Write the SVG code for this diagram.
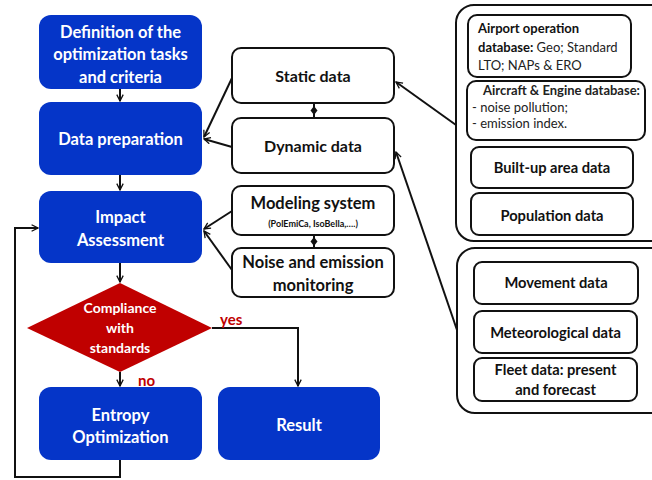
<svg xmlns="http://www.w3.org/2000/svg" width="652" height="480" viewBox="0 0 652 480">
<defs>
<style>
.blue{fill:#0535C8;stroke:none}
.wbox{fill:#fff;stroke:#111;stroke-width:2}
.grp{fill:#fff;stroke:#111;stroke-width:2}
.wt{font-family:Lato,"Liberation Sans",sans-serif;font-weight:bold;fill:#fff;text-anchor:middle}
.bt{font-family:Lato,"Liberation Sans",sans-serif;font-weight:bold;fill:#111;text-anchor:middle}
.st{font-family:Lato,"Liberation Sans",sans-serif;fill:#222;font-size:13px}
.conn{fill:none;stroke:#111;stroke-width:2}
.dm{fill:#111}
.red{font-family:Lato,"Liberation Sans",sans-serif;font-weight:bold;fill:#C00000;font-size:15px}
</style>
<marker id="arr" viewBox="0 0 10 10" refX="9" refY="5" markerWidth="8" markerHeight="8" markerUnits="userSpaceOnUse" orient="auto">
<path d="M1,1 L9,5 L1,9" fill="none" stroke="#111" stroke-width="1.6"/>
</marker>
</defs>

<g id="right-group-1">
<rect class="grp" x="456" y="5" width="220" height="236" rx="18"/>
</g>
<g id="right-group-2">
<rect class="grp" x="457" y="248" width="220" height="165" rx="18"/>
</g>

<g id="connectors">
<path class="conn" d="M120,89 V101" marker-end="url(#arr)"/>
<path class="conn" d="M120,175 V190" marker-end="url(#arr)"/>
<path class="conn" d="M120,263 V282" marker-end="url(#arr)"/>
<path class="conn" d="M120,372 V386" marker-end="url(#arr)"/>
<path class="conn" d="M212,328 H298 V386" marker-end="url(#arr)"/>
<path class="conn" d="M120,460 V477 H15 V228 H38" marker-end="url(#arr)"/>
<path class="conn" d="M232,78 L204,137" marker-end="url(#arr)"/>
<path class="conn" d="M232,147 L204,139" marker-end="url(#arr)"/>
<path class="conn" d="M232,211 L204,229" marker-end="url(#arr)"/>
<path class="conn" d="M232,270 L204,231" marker-end="url(#arr)"/>
<path class="conn" d="M456,125 L396,82" marker-end="url(#arr)"/>
<path class="conn" d="M457,330 L396,152" marker-end="url(#arr)"/>
<path class="conn" d="M314,103 V118"/>
<polygon class="dm" points="314,106 317.5,110.5 314,115 310.5,110.5"/>
<path class="conn" d="M314,235 V248"/>
<polygon class="dm" points="314,237 317.5,241.5 314,246 310.5,241.5"/>
</g>

<g id="definition">
<rect class="blue" x="39" y="15" width="163" height="74" rx="12"/>
<text class="wt" font-size="16.5" x="120.5" y="38">Definition of the</text>
<text class="wt" font-size="16.5" x="120.5" y="60">optimization tasks</text>
<text class="wt" font-size="16.5" x="120.5" y="83">and criteria</text>
</g>
<g id="data-preparation">
<rect class="blue" x="39" y="102" width="163" height="73" rx="12"/>
<text class="wt" font-size="16.5" x="120.5" y="145">Data preparation</text>
</g>
<g id="impact">
<rect class="blue" x="39" y="191" width="163" height="72" rx="12"/>
<text class="wt" font-size="16.5" x="120.5" y="223">Impact</text>
<text class="wt" font-size="16.5" x="120.5" y="246">Assessment</text>
</g>
<g id="compliance">
<polygon points="120,283 212,328 120,372 27,328" fill="#C00000"/>
<text class="wt" font-size="14" x="120" y="313">Compliance</text>
<text class="wt" font-size="14" x="120" y="333">with</text>
<text class="wt" font-size="14" x="120" y="353">standards</text>
<text class="red" x="220" y="325">yes</text>
<text class="red" x="138" y="386">no</text>
</g>
<g id="entropy">
<rect class="blue" x="39" y="387" width="163" height="73" rx="12"/>
<text class="wt" font-size="16.5" x="120.5" y="421">Entropy</text>
<text class="wt" font-size="16.5" x="120.5" y="443">Optimization</text>
</g>
<g id="result">
<rect class="blue" x="218" y="387" width="162" height="73" rx="12"/>
<text class="wt" font-size="16.5" x="299" y="431">Result</text>
</g>

<g id="static-data">
<rect class="wbox" x="232" y="48" width="162" height="55" rx="9"/>
<text class="bt" font-size="16" x="313" y="82">Static data</text>
</g>
<g id="dynamic-data">
<rect class="wbox" x="232" y="118" width="162" height="55" rx="9"/>
<text class="bt" font-size="16" x="313" y="152">Dynamic data</text>
</g>
<g id="modeling">
<rect class="wbox" x="232" y="186" width="162" height="49" rx="9"/>
<text class="bt" font-size="16.5" x="313" y="209">Modeling system</text>
<text class="bt" font-size="9" x="313" y="227">(PolEmiCa, IsoBella,….)</text>
</g>
<g id="monitoring">
<rect class="wbox" x="232" y="248" width="162" height="49" rx="9"/>
<text class="bt" font-size="16.5" x="313" y="268">Noise and emission</text>
<text class="bt" font-size="16.5" x="313" y="291">monitoring</text>
</g>

<g id="airport-db">
<rect class="wbox" x="468" y="15" width="163" height="62" rx="9"/>
<text class="st" x="478" y="33"><tspan font-weight="bold" fill="#111">Airport operation</tspan></text>
<text class="st" x="478" y="52"><tspan font-weight="bold" fill="#111">database:</tspan> Geo; Standard</text>
<text class="st" x="478" y="70">LTO; NAPs &amp; ERO</text>
</g>
<g id="aircraft-db">
<rect class="wbox" x="467" y="81" width="178" height="59" rx="9"/>
<text class="st" x="483" y="95" font-weight="bold" fill="#111">Aircraft &amp; Engine database:</text>
<text class="st" x="472" y="112">- noise pollution;</text>
<text class="st" x="472" y="128">- emission index.</text>
</g>
<g id="built-up">
<rect class="wbox" x="471" y="147" width="162" height="41" rx="8"/>
<text class="bt" font-size="14.7" x="552" y="173">Built-up area data</text>
</g>
<g id="population">
<rect class="wbox" x="471" y="193" width="162" height="42" rx="8"/>
<text class="bt" font-size="14.7" x="552" y="221">Population data</text>
</g>
<g id="movement">
<rect class="wbox" x="474" y="262" width="164" height="42" rx="8"/>
<text class="bt" font-size="14.7" x="556" y="288">Movement data</text>
</g>
<g id="meteorological">
<rect class="wbox" x="474" y="311" width="163" height="42" rx="8"/>
<text class="bt" font-size="14.7" x="555.5" y="338">Meteorological data</text>
</g>
<g id="fleet">
<rect class="wbox" x="474" y="358" width="163" height="43" rx="8"/>
<text class="bt" font-size="14.7" x="555.5" y="375">Fleet data: present</text>
<text class="bt" font-size="14.7" x="555.5" y="395">and forecast</text>
</g>
</svg>
